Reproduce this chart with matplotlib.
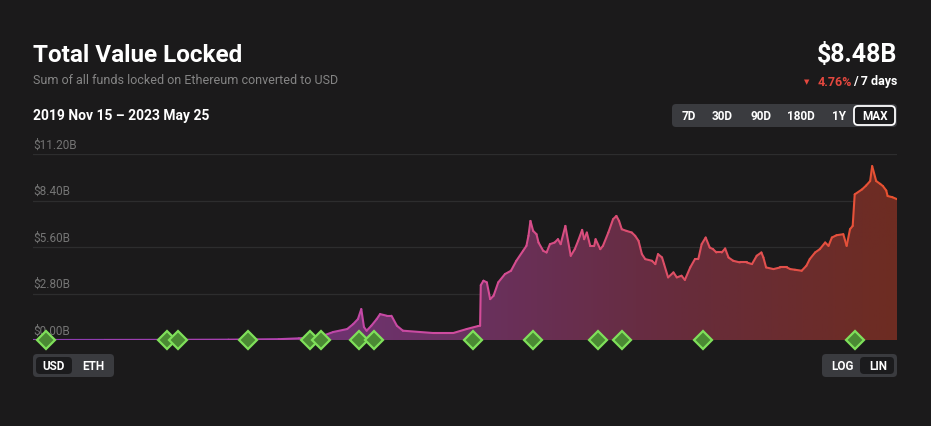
import matplotlib
matplotlib.use("Agg")
import matplotlib.pyplot as plt
import matplotlib.dates as mdates
import numpy as np
from matplotlib.collections import LineCollection
from matplotlib.colors import LinearSegmentedColormap
from matplotlib.patches import FancyBboxPatch

plt.rcParams["font.family"] = ["Roboto", "DejaVu Sans"]

# TVL in billions USD
dates = [
    "2019-11-15", "2020-03-01", "2020-06-01", "2020-09-01", "2020-11-15",
    "2020-12-15", "2021-01-15", "2021-02-04", "2021-02-25", "2021-03-06",
    "2021-03-13", "2021-03-18", "2021-03-22", "2021-03-26", "2021-04-02",
    "2021-04-10", "2021-04-15", "2021-04-25", "2021-05-02", "2021-05-10",
    "2021-05-19", "2021-07-03", "2021-08-02", "2021-08-22", "2021-09-08",
    "2021-09-11", "2021-09-12", "2021-09-16", "2021-09-21", "2021-09-26",
    "2021-10-01", "2021-10-08", "2021-10-18", "2021-10-27", "2021-11-04",
    "2021-11-14", "2021-11-19", "2021-11-22", "2021-11-25", "2021-11-29",
    "2021-12-04", "2021-12-07", "2021-12-14", "2021-12-19", "2021-12-24",
    "2021-12-31", "2022-01-05", "2022-01-09", "2022-01-16", "2022-01-20",
    "2022-01-24", "2022-01-30", "2022-02-04", "2022-02-10", "2022-02-13",
    "2022-02-17", "2022-02-22", "2022-02-28", "2022-03-02", "2022-03-09",
    "2022-03-13", "2022-03-21", "2022-03-28", "2022-04-02", "2022-04-06",
    "2022-04-10", "2022-04-17", "2022-04-25", "2022-04-30", "2022-05-05",
    "2022-05-10", "2022-05-15", "2022-05-25", "2022-05-30", "2022-06-03",
    "2022-06-09", "2022-06-12", "2022-06-18", "2022-06-26", "2022-07-01",
    "2022-07-08", "2022-07-13", "2022-07-21", "2022-07-28", "2022-08-02",
    "2022-08-07", "2022-08-13", "2022-08-19", "2022-08-24", "2022-08-29",
    "2022-09-06", "2022-09-11", "2022-09-16", "2022-09-23", "2022-10-03",
    "2022-10-13", "2022-10-21", "2022-10-28", "2022-11-04", "2022-11-07",
    "2022-11-11", "2022-11-22", "2022-12-02", "2022-12-12", "2022-12-17",
    "2022-12-24", "2023-01-03", "2023-01-10", "2023-01-15", "2023-01-23",
    "2023-01-30", "2023-02-07", "2023-02-12", "2023-02-17", "2023-02-24",
    "2023-03-06", "2023-03-11", "2023-03-16", "2023-03-20", "2023-03-23",
    "2023-04-03", "2023-04-09", "2023-04-15", "2023-04-18", "2023-04-24",
    "2023-04-30", "2023-05-04", "2023-05-09", "2023-05-11", "2023-05-18",
    "2023-05-25",
]
tvl = [
    0.00, 0.005, 0.01, 0.02, 0.05,
    0.10, 0.18, 0.48, 0.66, 0.96,
    1.26, 1.86, 0.78, 0.56, 0.86,
    1.26, 1.56, 1.46, 1.46, 0.86,
    0.56, 0.42, 0.42, 0.66, 0.84,
    0.86, 3.30, 3.57, 3.47, 2.46,
    2.66, 3.47, 3.97, 4.17, 4.77,
    5.37, 5.67, 6.27, 7.17, 6.57,
    6.37, 5.87, 5.37, 5.27, 5.77,
    5.87, 6.07, 5.77, 6.87, 5.97,
    5.07, 5.47, 5.97, 6.63, 6.07,
    6.47, 5.67, 5.67, 6.07, 5.47,
    5.67, 6.47, 7.27, 7.47, 7.17,
    6.67, 6.57, 6.47, 6.27, 5.97,
    5.17, 4.87, 4.77, 4.57, 5.17,
    4.97, 4.57, 3.77, 4.07, 3.77,
    3.87, 3.62, 4.37, 4.87, 4.87,
    5.77, 6.17, 5.57, 5.47, 5.27,
    5.27, 5.51, 4.97, 4.77, 4.67,
    4.67, 4.57, 5.07, 5.27, 4.97,
    4.37, 4.27, 4.37, 4.37, 4.27,
    4.23, 4.17, 4.47, 4.87, 5.27,
    5.47, 5.87, 5.67, 6.17, 6.31,
    6.37, 5.67, 6.67, 6.87, 8.77,
    9.07, 9.30, 9.57, 10.47, 9.57,
    9.40, 9.27, 9.00, 8.67, 8.60,
    8.48,
]
milestones = [
    "2019-12-04", "2020-06-02", "2020-06-18", "2020-10-01", "2020-12-31",
    "2021-01-17", "2021-03-15", "2021-04-06", "2021-08-31", "2021-11-29",
    "2022-03-05", "2022-04-11", "2022-08-09", "2023-03-23",
]
y_ticks = [0.0, 2.8, 5.6, 8.4, 11.2]
ranges = ["7D", "30D", "90D", "180D", "1Y", "MAX"]

BG = "#1b1a1b"
x = mdates.datestr2num(dates)
y = np.array(tvl)
ms = mdates.datestr2num(milestones)

fig = plt.figure(figsize=(9.31, 4.27), dpi=100, facecolor=BG)
W, H = 931, 427


def fx(px):
    return px / W


def fy(py):
    return 1 - py / H


ax = fig.add_axes([fx(33), fy(341), fx(864), (341 - 155) / H])
ax.set_facecolor(BG)
ax.set_xlim(x[0], x[-1])
ax.set_ylim(0, 11.2)
for s in ax.spines.values():
    s.set_visible(False)
ax.set_xticks([])
ax.set_yticks([])

for t in y_ticks:
    if t > 0:
        ax.axhline(t, color="#2d2d2e", lw=0.9, zorder=0)
    ax.text(x[0], t + 0.22, f"${t:.2f}B", color="#757575", fontsize=8.5,
            va="bottom", ha="left")

line_cmap = LinearSegmentedColormap.from_list(
    "ln", ["#8e3cb0", "#b444b0", "#d24c9c", "#de4f62", "#e8512e"])
fill_cmap = LinearSegmentedColormap.from_list(
    "fl", ["#5a2c6e", "#72347a", "#6a3160", "#672c3c", "#6e2c22"])

# gradient fill clipped to area under the curve
poly = ax.fill_between(x, 0, y, color="none", lw=0)
grad = np.linspace(0, 1, 400).reshape(1, -1)
img = ax.imshow(grad, cmap=fill_cmap, aspect="auto",
                extent=[x[0], x[-1], 0, 11.2], origin="lower", zorder=1)
clip = poly.get_paths()[0]
img.set_clip_path(clip, transform=ax.transData)

# gradient line
pts = np.column_stack([x, y]).reshape(-1, 1, 2)
segs = np.concatenate([pts[:-1], pts[1:]], axis=1)
lc = LineCollection(segs, cmap=line_cmap, linewidths=1.5, zorder=3,
                    capstyle="round", joinstyle="round")
lc.set_array((x[:-1] - x[0]) / (x[-1] - x[0]))
lc.set_clim(0, 1)
ax.add_collection(lc)

ax.plot(ms, np.zeros_like(ms), "D", ms=9, mfc="#4b8a34", mec="#7fe05a",
        mew=1.6, zorder=5, clip_on=False)

# header text
fig.text(fx(33), fy(55), "Total Value Locked", color="white", fontsize=17.5,
         fontweight="bold", va="center", ha="left")
fig.text(fx(33), fy(81), "Sum of all funds locked on Ethereum converted to USD",
         color="#858585", fontsize=9, va="center", ha="left")
fig.text(fx(33), fy(116), "2019 Nov 15 \u2013 2023 May 25", color="white",
         fontsize=10, fontweight="bold", va="center", ha="left")
fig.text(fx(897), fy(55), "$8.48B", color="white", fontsize=18,
         fontweight="bold", va="center", ha="right")
fig.text(fx(897), fy(82), "/ 7 days", color="white", fontsize=9,
         fontweight="bold", va="center", ha="right")
fig.text(fx(852), fy(82), "4.76%", color="#e5483f", fontsize=9,
         fontweight="bold", va="center", ha="right")
fig.text(fx(809), fy(82), "\u25BC", color="#e5483f", fontsize=5,
         va="center", ha="right", family="DejaVu Sans")


def pill(x0, y0, w, h, color, ec="none", lw=0):
    p = FancyBboxPatch((fx(x0), fy(y0 + h)), fx(w), h / H,
                       boxstyle=f"round,pad=0,rounding_size={4 / W}",
                       transform=fig.transFigure, fc=color, ec=ec, lw=lw,
                       mutation_aspect=W / H)
    fig.patches.append(p)


# range buttons
pill(672, 105, 225, 23, "#3a3b3f")
pill(854, 107, 41, 19, "#1b1b1d", ec="white", lw=1.3)
for lab, px in zip(ranges, [689, 722, 761, 801, 839, 875]):
    fig.text(fx(px), fy(116.5), lab, color="white", fontsize=8.5,
             fontweight="bold", va="center", ha="center")

# currency toggle
pill(33, 355, 81, 23, "#3a3b3f")
pill(36, 358, 36, 17, "#1b1b1d")
fig.text(fx(54), fy(366.5), "USD", color="white", fontsize=8.5,
         fontweight="bold", va="center", ha="center")
fig.text(fx(93), fy(366.5), "ETH", color="white", fontsize=8.5,
         fontweight="bold", va="center", ha="center")

# scale toggle
pill(822, 355, 75, 23, "#3a3b3f")
pill(860, 358, 34, 17, "#1b1b1d")
fig.text(fx(842), fy(366.5), "LOG", color="white", fontsize=8.5,
         fontweight="bold", va="center", ha="center")
fig.text(fx(878), fy(366.5), "LIN", color="white", fontsize=8.5,
         fontweight="bold", va="center", ha="center")

fig.savefig("out.png", dpi=100, facecolor=BG)
